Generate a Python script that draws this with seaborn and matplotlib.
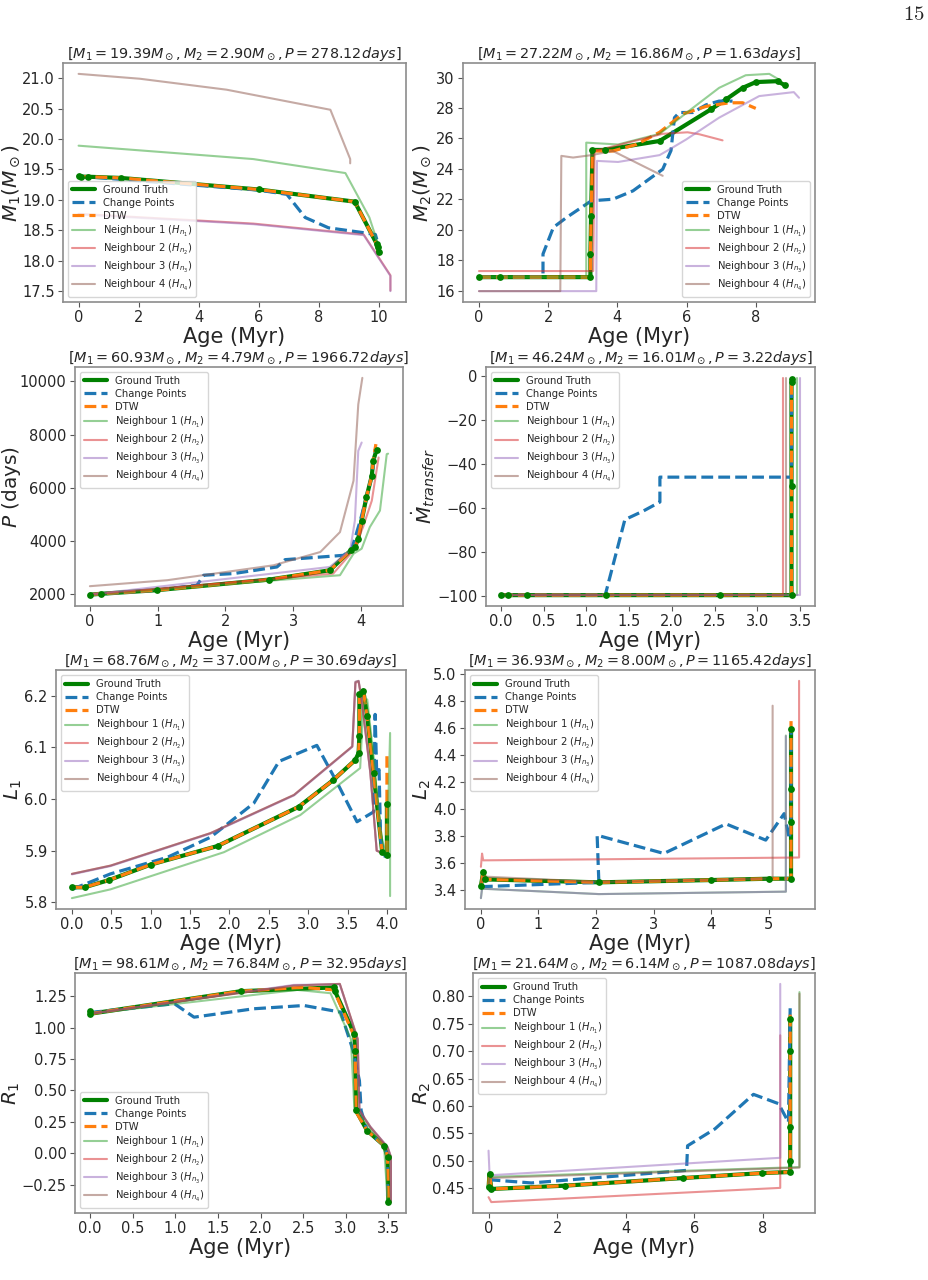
import matplotlib
matplotlib.use("Agg")
import matplotlib.pyplot as plt
from matplotlib.ticker import MultipleLocator
import seaborn as sns

# ---- panel 1 : M1 ----
m1_gt_age = [0, 0.08, 0.3, 1.4, 6.0, 9.2, 9.94, 10.0, 9.98]
m1_gt_val = [19.39, 19.38, 19.38, 19.36, 19.17, 18.97, 18.27, 18.14, 18.22]
m1_cp_age = [0, 6.0, 6.94, 7.55, 8.33, 9.5, 9.89, 10.0]
m1_cp_val = [19.39, 19.16, 19.09, 18.71, 18.54, 18.46, 18.43, 18.24]
m1_n1_age = [0, 5.82, 8.89, 9.69, 10.0]
m1_n1_val = [19.89, 19.67, 19.44, 18.71, 18.24]
m1_n2_age = [0, 5.82, 9.5, 10.39, 10.39]
m1_n2_val = [18.77, 18.61, 18.43, 17.76, 17.51]
m1_n3_age = [0, 5.82, 9.5, 10.39, 10.39]
m1_n3_val = [18.76, 18.60, 18.42, 17.75, 17.50]
m1_n4_age = [0, 2.04, 4.93, 8.39, 9.05, 9.05]
m1_n4_val = [21.07, 20.99, 20.81, 20.48, 19.67, 19.60]

# ---- panel 2 : M2 ----
m2_gt_age = [0, 0.6, 3.22, 3.22, 3.24, 3.28, 3.63, 5.22, 6.7, 7.14, 7.62, 8.0, 8.63, 8.85]
m2_gt_val = [16.88, 16.88, 16.88, 18.4, 20.9, 25.24, 25.24, 25.83, 27.9, 28.56, 29.32, 29.7, 29.76, 29.48]
m2_dtw_age = [0, 0.6, 3.22, 3.22, 3.28, 3.87, 4.55, 5.22, 5.89, 6.56, 7.23, 7.62, 8.0]
m2_dtw_val = [16.88, 16.88, 16.88, 18.4, 25.17, 25.17, 25.6, 26.4, 27.6, 28.1, 28.34, 28.34, 27.97]
m2_cp_age = [0, 1.85, 1.85, 1.85, 2.15, 2.53, 3.25, 3.87, 4.45, 5.31, 5.55, 5.65, 5.79, 6.18, 6.56, 6.94, 7.33]
m2_cp_val = [16.88, 16.88, 17.2, 18.4, 20.15, 20.8, 21.9, 22.0, 22.55, 23.97, 25.2, 27.36, 27.7, 27.7, 28.2, 28.45, 28.45]
m2_n1_age = [0, 3.1, 3.1, 4.02, 5.22, 6.18, 6.94, 7.71, 8.39, 8.67]
m2_n1_val = [16.88, 16.88, 25.72, 25.6, 26.3, 28.0, 29.32, 30.15, 30.24, 29.87]
m2_n2_age = [0, 3.3, 3.34, 5.31, 6.03, 6.37, 7.04]
m2_n2_val = [17.28, 17.28, 25.17, 26.3, 26.4, 26.27, 25.87]
m2_n3_age = [0, 3.39, 3.41, 4.02, 5.22, 5.51, 5.99, 6.94, 8.1, 9.1, 9.25]
m2_n3_val = [15.96, 15.96, 24.52, 24.45, 24.9, 25.28, 25.93, 27.36, 28.78, 29.04, 28.67]
m2_n4_age = [0, 2.35, 2.38, 2.72, 3.25, 3.87, 5.31]
m2_n4_val = [15.96, 15.96, 24.85, 24.74, 24.9, 25.17, 23.54]

# ---- panel 3 : P ----
p_gt_age = [0, 0.16, 0.99, 2.65, 3.54, 3.86, 3.91, 3.96, 4.01, 4.08, 4.16, 4.18, 4.23]
p_gt_val = [1967, 2000, 2137, 2537, 2887, 3662, 3762, 4075, 4762, 5637, 6450, 7012, 7420]
p_dtw_age = [0, 0.16, 0.99, 2.65, 3.54, 3.86, 3.91, 3.96, 4.01, 4.08, 4.16, 4.18, 4.22]
p_dtw_val = [1967, 2000, 2137, 2537, 2887, 3662, 3762, 4075, 4762, 5637, 6450, 7012, 7640]
p_cp_age = [0, 0.99, 1.58, 1.68, 2.12, 2.76, 2.88, 3.74, 3.86, 3.99, 4.08, 4.16, 4.21]
p_cp_val = [1967, 2137, 2325, 2700, 2762, 3012, 3287, 3450, 3662, 4762, 5637, 6450, 7450]
p_n1_age = [0, 2.12, 3.69, 3.89, 4.01, 4.13, 4.28, 4.38, 4.4]
p_n1_val = [1950, 2387, 2700, 3512, 3700, 4512, 5137, 7262, 7280]
p_n2_age = [0, 3.59, 3.89, 4.03, 4.16, 4.26]
p_n2_val = [1975, 2762, 3637, 4512, 5512, 7137]
p_n3_age = [0, 3.54, 3.84, 3.91, 3.96, 4.01]
p_n3_val = [1970, 3012, 3637, 4762, 7387, 7700]
p_n4_age = [0, 1.14, 2.71, 3.40, 3.69, 3.89, 3.96, 4.02]
p_n4_val = [2287, 2512, 3075, 3575, 4325, 6262, 9137, 10137]

# ---- panel 4 : mass transfer ----
mt_gt_age = [0, 0.08, 0.31, 1.23, 2.56, 3.40, 3.40, 3.40, 3.41]
mt_gt_val = [-99.7, -99.7, -99.7, -99.7, -99.7, -99.7, -50.0, -3.0, -1.7]
mt_cp_age = [0, 1.22, 1.45, 1.67, 1.86, 1.86, 3.40, 3.40]
mt_cp_val = [-99.7, -99.7, -65.4, -61.4, -57.4, -46.1, -46.1, -1.7]
mt_n1_age = [0, 3.46, 3.46]
mt_n1_val = [-99.7, -99.7, -1.0]
mt_n2_age = [0, 3.30, 3.30]
mt_n2_val = [-99.7, -99.7, -1.0]
mt_n3_age = [0, 3.50, 3.50]
mt_n3_val = [-99.7, -99.7, -1.0]
mt_n4_age = [0, 3.33, 3.33]
mt_n4_val = [-99.7, -99.7, -1.0]

# ---- panel 5 : L1 ----
l1_gt_age = [0, 0.16, 0.47, 1.0, 1.85, 2.88, 3.32, 3.60, 3.64, 3.65, 3.65, 3.70, 3.75, 3.83, 3.94, 4.0, 4.0]
l1_gt_val = [5.829, 5.829, 5.843, 5.873, 5.909, 5.985, 6.037, 6.076, 6.089, 6.122, 6.203, 6.21, 6.16, 6.05, 5.897, 5.891, 5.99]
l1_dtw_age = [0, 0.16, 0.47, 1.0, 1.85, 2.88, 3.32, 3.60, 3.64, 3.65, 3.65, 3.70, 3.75, 3.83, 3.94, 4.0, 4.0]
l1_dtw_val = [5.829, 5.829, 5.843, 5.873, 5.909, 5.985, 6.037, 6.076, 6.089, 6.122, 6.203, 6.21, 6.16, 6.05, 5.897, 5.891, 6.083]
l1_cp_age = [0, 0.49, 1.21, 1.76, 2.31, 2.63, 3.11, 3.37, 3.62, 3.83, 3.85, 3.87, 3.90, 3.92, 3.98]
l1_cp_val = [5.825, 5.855, 5.887, 5.926, 5.992, 6.073, 6.104, 6.031, 5.956, 5.975, 6.164, 6.05, 6.057, 5.92, 5.887]
l1_n1_age = [0, 0.49, 1.93, 2.9, 3.66, 3.70, 3.75, 3.83, 3.92, 4.0, 4.04, 4.04]
l1_n1_val = [5.808, 5.825, 5.897, 5.969, 6.06, 6.18, 6.193, 6.083, 5.933, 5.887, 6.128, 5.812]
l1_n2_age = [0, 0.49, 1.76, 2.82, 3.56, 3.60, 3.64, 3.68, 3.79, 3.87, 3.96]
l1_n2_val = [5.855, 5.871, 5.934, 6.008, 6.102, 6.225, 6.228, 6.19, 6.05, 5.9, 5.894]
l1_n3_age = [0, 0.49, 1.76, 2.82, 3.56, 3.60, 3.64, 3.68, 3.79, 3.87, 3.96]
l1_n3_val = [5.854, 5.870, 5.933, 6.007, 6.101, 6.227, 6.229, 6.193, 6.05, 5.9, 5.894]
l1_n4_age = [0, 0.49, 1.76, 2.82, 3.56, 3.60, 3.64, 3.68, 3.79, 3.87, 3.96]
l1_n4_val = [5.855, 5.871, 5.934, 6.008, 6.102, 6.227, 6.229, 6.193, 6.05, 5.9, 5.894]

# ---- panel 6 : L2 ----
l2_gt_age = [0, 0.04, 0.07, 2.05, 4.0, 5.01, 5.39, 5.39, 5.39, 5.39]
l2_gt_val = [3.43, 3.535, 3.479, 3.457, 3.474, 3.484, 3.484, 3.905, 4.15, 4.594]
l2_dtw_age = [0, 0.04, 0.07, 2.05, 4.0, 5.01, 5.39, 5.39]
l2_dtw_val = [3.43, 3.535, 3.479, 3.457, 3.474, 3.484, 3.484, 4.655]
l2_cp_age = [0, 2.05, 2.02, 3.18, 4.26, 4.95, 5.27, 5.36, 5.39, 5.39]
l2_cp_val = [3.425, 3.457, 3.806, 3.671, 3.89, 3.77, 3.966, 3.78, 3.905, 4.59]
l2_n1_age = [0, 0.02, 2.05, 5.30, 5.30]
l2_n1_val = [3.34, 3.41, 3.37, 3.388, 4.545]
l2_n2_age = [0, 0.02, 0.04, 5.53, 5.53]
l2_n2_val = [3.572, 3.67, 3.62, 3.641, 4.95]
l2_n3_age = [0, 0.02, 2.05, 5.30, 5.30]
l2_n3_val = [3.34, 3.41, 3.37, 3.388, 4.54]
l2_n4_age = [0, 0.04, 2.05, 4.0, 5.07, 5.07]
l2_n4_val = [3.45, 3.50, 3.46, 3.475, 3.486, 4.766]

# ---- panel 7 : R1 ----
r1_gt_age = [0, 0, 1.77, 2.86, 2.87, 3.10, 3.11, 3.12, 3.25, 3.45, 3.49, 3.50]
r1_gt_val = [1.13, 1.11, 1.29, 1.32, 1.295, 0.95, 0.817, 0.34, 0.18, 0.06, -0.03, -0.39]
r1_dtw_age = [0, 1.77, 2.5, 2.86, 3.10, 3.11, 3.12, 3.25, 3.45, 3.49, 3.50]
r1_dtw_val = [1.11, 1.29, 1.32, 1.30, 0.93, 0.80, 0.33, 0.18, 0.06, -0.03, -0.39]
r1_cp_age = [0, 0.99, 1.22, 1.92, 2.51, 2.94, 3.08, 3.16, 3.18, 3.25, 3.45, 3.49, 3.49]
r1_cp_val = [1.12, 1.19, 1.083, 1.15, 1.176, 1.123, 0.83, 0.578, 0.34, 0.18, 0.06, -0.03, -0.38]
r1_n1_age = [0, 2.43, 2.82, 3.06, 3.10, 3.45, 3.49]
r1_n1_val = [1.11, 1.30, 1.274, 0.91, 0.366, 0.047, -0.377]
r1_n2_age = [0, 2.39, 2.93, 3.14, 3.16, 3.29, 3.49, 3.53, 3.53]
r1_n2_val = [1.11, 1.335, 1.348, 0.91, 0.34, 0.207, 0.047, -0.032, -0.39]
r1_n3_age = [0, 2.39, 2.93, 3.14, 3.16, 3.29, 3.49, 3.53, 3.53]
r1_n3_val = [1.11, 1.34, 1.345, 0.90, 0.34, 0.21, 0.05, -0.03, -0.385]
r1_n4_age = [0, 2.39, 2.93, 3.14, 3.16, 3.29, 3.49, 3.53, 3.53]
r1_n4_val = [1.11, 1.335, 1.348, 0.91, 0.34, 0.207, 0.047, -0.032, -0.39]

# ---- panel 8 : R2 ----
r2_gt_age = [0, 0.03, 0.08, 2.22, 5.67, 7.96, 8.79, 8.79, 8.79, 8.79, 8.79]
r2_gt_val = [0.451, 0.476, 0.448, 0.454, 0.468, 0.477, 0.479, 0.50, 0.561, 0.70, 0.759]
r2_dtw_age = [0, 0.03, 0.08, 2.22, 5.67, 7.96, 8.79, 8.79]
r2_dtw_val = [0.451, 0.476, 0.448, 0.454, 0.468, 0.477, 0.479, 0.774]
r2_cp_age = [0, 1.25, 5.77, 5.80, 6.6, 7.72, 8.45, 8.74, 8.79]
r2_cp_val = [0.465, 0.459, 0.482, 0.527, 0.558, 0.621, 0.604, 0.57, 0.78]
r2_n1_age = [0, 0.03, 9.06, 9.06]
r2_n1_val = [0.454, 0.47, 0.488, 0.808]
r2_n2_age = [0, 0.08, 8.5, 8.5]
r2_n2_val = [0.433, 0.424, 0.45, 0.729]
r2_n3_age = [0, 0.03, 8.5, 8.5]
r2_n3_val = [0.518, 0.473, 0.505, 0.823]
r2_n4_age = [0, 0.03, 9.06, 9.06]
r2_n4_val = [0.456, 0.468, 0.487, 0.805]

titles = [
    r"$[M_1 = 19.39 M_\odot, M_2 = 2.90 M_\odot, P = 278.12 days]$",
    r"$[M_1 = 27.22 M_\odot, M_2 = 16.86 M_\odot, P = 1.63 days]$",
    r"$[M_1 = 60.93 M_\odot, M_2 = 4.79 M_\odot, P = 1966.72 days]$",
    r"$[M_1 = 46.24 M_\odot, M_2 = 16.01 M_\odot, P = 3.22 days]$",
    r"$[M_1 = 68.76 M_\odot, M_2 = 37.00 M_\odot, P = 30.69 days]$",
    r"$[M_1 = 36.93 M_\odot, M_2 = 8.00 M_\odot, P = 1165.42 days]$",
    r"$[M_1 = 98.61 M_\odot, M_2 = 76.84 M_\odot, P = 32.95 days]$",
    r"$[M_1 = 21.64 M_\odot, M_2 = 6.14 M_\odot, P = 1087.08 days]$",
]
ylabels = [r"$M_1 (M_\odot)$", r"$M_2 (M_\odot)$", r"$P$ (days)", r"$\dot{M}_{transfer}$",
           r"$L_1$", r"$L_2$", r"$R_1$", r"$R_2$"]
legend_locs = ["lower left", "lower right", "upper left", "upper left",
               "upper left", "upper left", "lower left", "upper left"]
x_steps = [2, 2, 1, 0.5, 0.5, 1, 0.5, 2]
y_steps = [0.5, 2, 2000, 20, 0.1, 0.2, 0.25, 0.05]

panels = [
    (m1_gt_age, m1_gt_val, m1_cp_age, m1_cp_val, m1_gt_age, m1_gt_val,
     [(m1_n1_age, m1_n1_val), (m1_n2_age, m1_n2_val), (m1_n3_age, m1_n3_val), (m1_n4_age, m1_n4_val)]),
    (m2_gt_age, m2_gt_val, m2_cp_age, m2_cp_val, m2_dtw_age, m2_dtw_val,
     [(m2_n1_age, m2_n1_val), (m2_n2_age, m2_n2_val), (m2_n3_age, m2_n3_val), (m2_n4_age, m2_n4_val)]),
    (p_gt_age, p_gt_val, p_cp_age, p_cp_val, p_dtw_age, p_dtw_val,
     [(p_n1_age, p_n1_val), (p_n2_age, p_n2_val), (p_n3_age, p_n3_val), (p_n4_age, p_n4_val)]),
    (mt_gt_age, mt_gt_val, mt_cp_age, mt_cp_val, mt_gt_age, mt_gt_val,
     [(mt_n1_age, mt_n1_val), (mt_n2_age, mt_n2_val), (mt_n3_age, mt_n3_val), (mt_n4_age, mt_n4_val)]),
    (l1_gt_age, l1_gt_val, l1_cp_age, l1_cp_val, l1_dtw_age, l1_dtw_val,
     [(l1_n1_age, l1_n1_val), (l1_n2_age, l1_n2_val), (l1_n3_age, l1_n3_val), (l1_n4_age, l1_n4_val)]),
    (l2_gt_age, l2_gt_val, l2_cp_age, l2_cp_val, l2_dtw_age, l2_dtw_val,
     [(l2_n1_age, l2_n1_val), (l2_n2_age, l2_n2_val), (l2_n3_age, l2_n3_val), (l2_n4_age, l2_n4_val)]),
    (r1_gt_age, r1_gt_val, r1_cp_age, r1_cp_val, r1_dtw_age, r1_dtw_val,
     [(r1_n1_age, r1_n1_val), (r1_n2_age, r1_n2_val), (r1_n3_age, r1_n3_val), (r1_n4_age, r1_n4_val)]),
    (r2_gt_age, r2_gt_val, r2_cp_age, r2_cp_val, r2_dtw_age, r2_dtw_val,
     [(r2_n1_age, r2_n1_val), (r2_n2_age, r2_n2_val), (r2_n3_age, r2_n3_val), (r2_n4_age, r2_n4_val)]),
]

# axes boxes in pixels: left, top, right, bottom ; ylabel right edge in pixels
boxes = [
    (63, 63, 406, 302), (463, 63, 815, 302),
    (75, 367, 403, 606), (486, 367, 815, 606),
    (56, 670, 406, 909), (465, 670, 815, 909),
    (75, 973, 406, 1213), (473, 973, 815, 1213),
]
ylabel_x = [22, 433, 23, 437, 24, 433, 22, 433]

sns.set_style("ticks")
plt.rcParams["font.family"] = ["DejaVu Sans"]
plt.rcParams["mathtext.fontset"] = "dejavusans"
W, H = 929, 1280
fig = plt.figure(figsize=(W / 100, H / 100), dpi=100)

nb_colors = ["tab:green", "tab:red", "tab:purple", "tab:brown"]

for i, (gx, gy, cx, cy, dx, dy, nbs) in enumerate(panels):
    l, t, r, b = boxes[i]
    ax = fig.add_axes([l / W, 1 - b / H, (r - l) / W, (b - t) / H])
    sns.lineplot(x=gx, y=gy, ax=ax, sort=False, estimator=None, color="green", lw=3,
                 label="Ground Truth")
    sns.scatterplot(x=gx, y=gy, ax=ax, color="green", s=24, linewidth=0, legend=False, zorder=3)
    sns.lineplot(x=cx, y=cy, ax=ax, sort=False, estimator=None, color="tab:blue", lw=2.3,
                 linestyle="--", label="Change Points")
    sns.lineplot(x=dx, y=dy, ax=ax, sort=False, estimator=None, color="tab:orange", lw=2.3,
                 linestyle="--", label="DTW")
    for k, (nx, ny) in enumerate(nbs):
        sns.lineplot(x=nx, y=ny, ax=ax, sort=False, estimator=None, color=nb_colors[k],
                     lw=1.5, alpha=0.5, label=rf"Neighbour {k + 1} ($H_{{n_{k + 1}}}$)")
    ax.set_title(titles[i], fontsize=10.4, pad=3)
    ax.set_xlabel("Age (Myr)", fontsize=15, labelpad=1)
    ax.set_ylabel(ylabels[i], fontsize=14.5)
    ax.yaxis.set_label_coords((ylabel_x[i] - l) / (r - l), 0.5)
    ax.xaxis.set_major_locator(MultipleLocator(x_steps[i]))
    ax.yaxis.set_major_locator(MultipleLocator(y_steps[i]))
    ax.tick_params(labelsize=10.5, direction="out", length=3.5, color="#555555", pad=2.5)
    for sp in ax.spines.values():
        sp.set_color("#8c8c8c")
        sp.set_linewidth(1.2)
    ax.legend(loc=legend_locs[i], fontsize=7.2, handlelength=2.3, labelspacing=0.3,
              borderpad=0.4)

fig.text(0.995, 0.989, r"$15$", fontsize=15, ha="right", va="center", math_fontfamily="cm")

fig.savefig("out.png", dpi=100)
